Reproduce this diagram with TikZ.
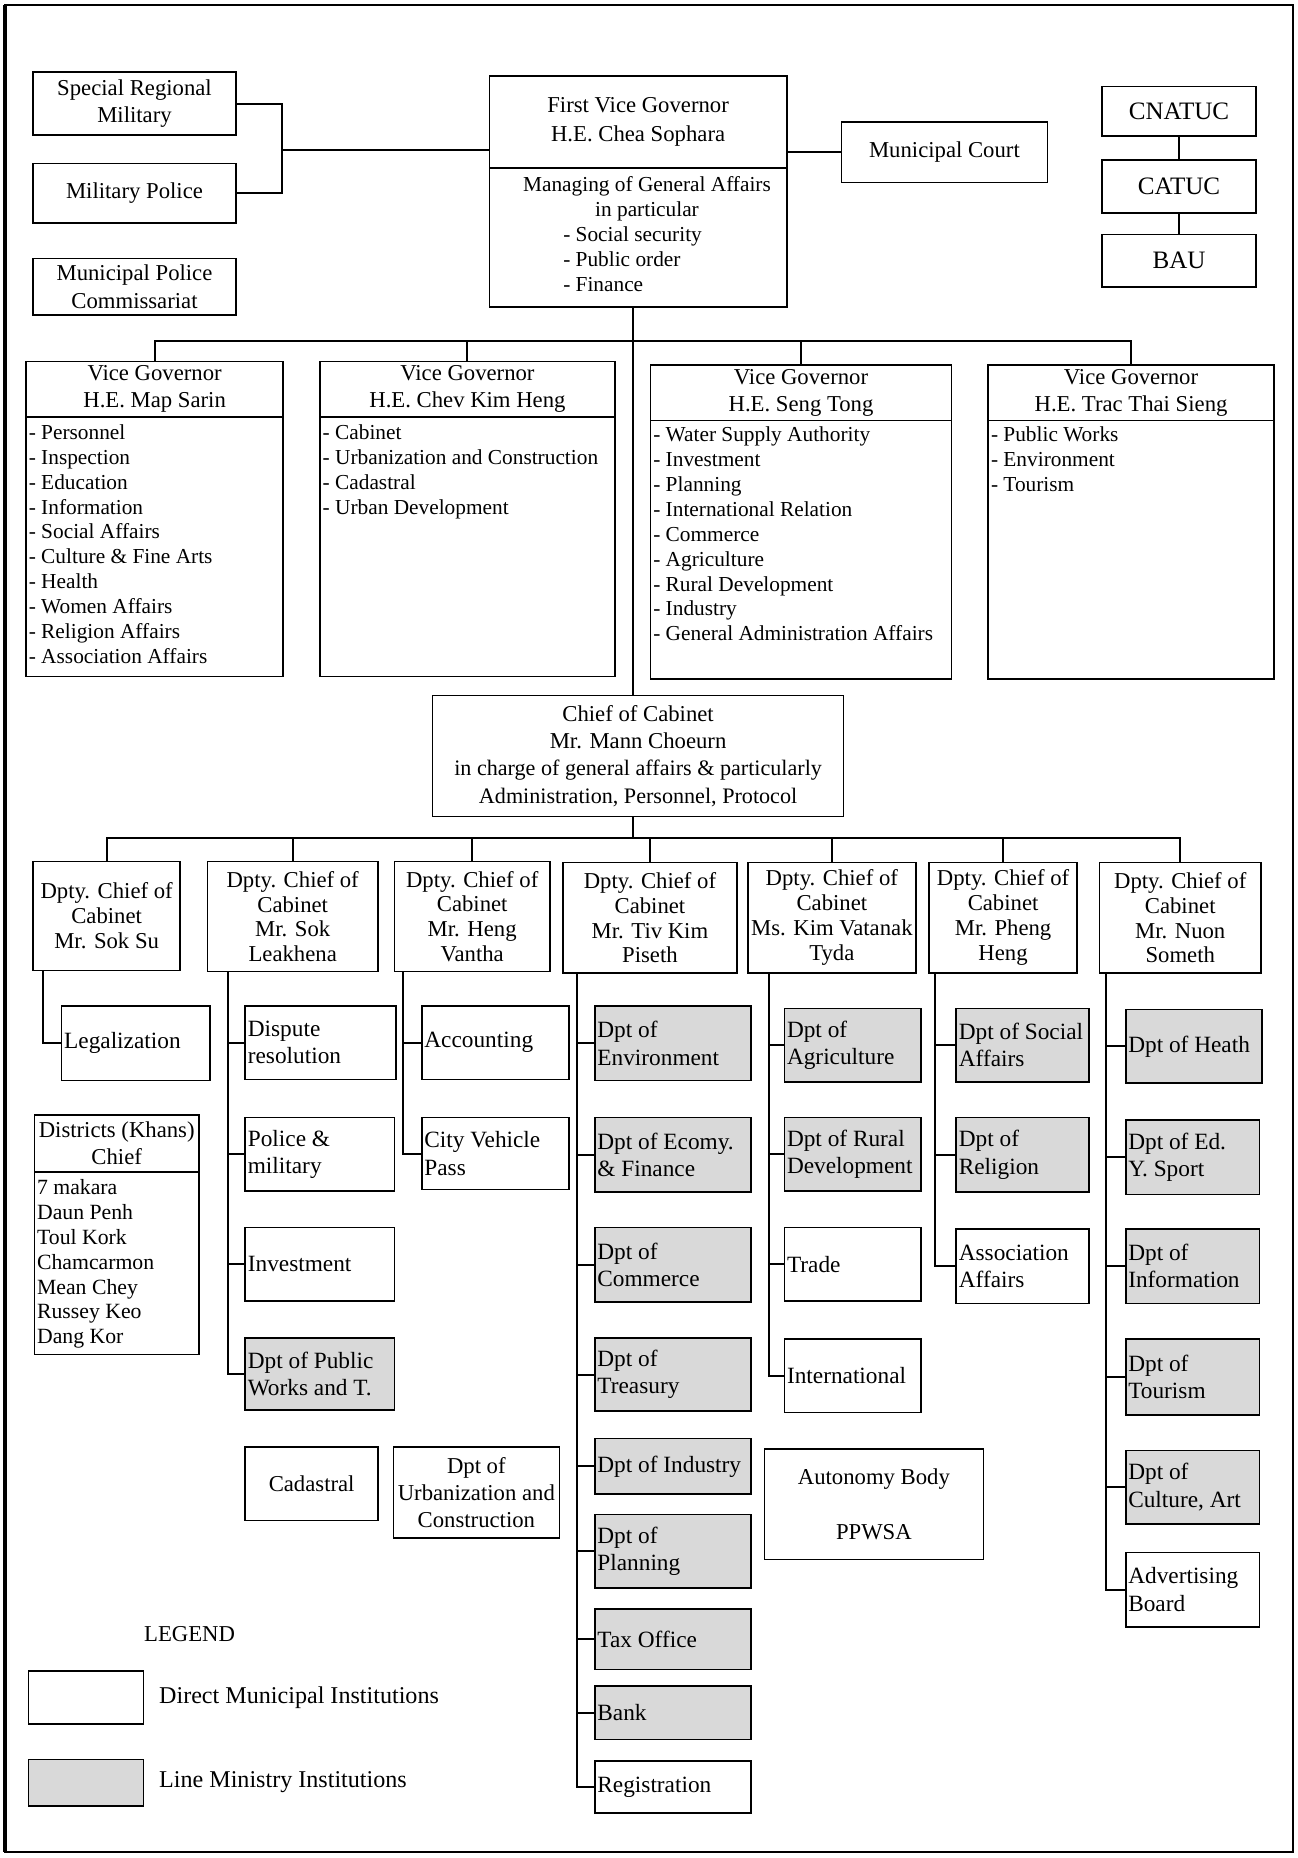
\documentclass[tikz,border=0pt]{standalone}
\usepackage{fontspec}
\setmainfont{Liberation Serif}
% box given by its corners (x1,y1)-(x2,y2), text centred
\newcommand\cbox[7]{%
  \node[#1,minimum width={(#5-#3)*0.6pt},minimum height={(#6-#4)*0.6pt}]
    (#2) at ({(#3+#5)/2},{(#4+#6)/2}) {#7};}
% box given by its corners, text flush left
\newcommand\lbox[7]{%
  \node[#1,minimum width={(#5-#3)*0.6pt},minimum height={(#6-#4)*0.6pt}]
    (#2) at ({(#3+#5)/2},{(#4+#6)/2}) {};
  \node[lefttext] (#2-t) at (#2.west) {#7};}
\begin{document}
\begin{tikzpicture}[x=0.6pt,y=-0.6pt,
  every node/.style={font=\fontsize{11.5}{13.8}\selectfont},
  box/.style={draw,line width=0.8pt,fill=white,inner sep=0pt,align=center},
  shade/.style={box,fill=black!15},
  dpty/.style={box,font=\fontsize{11.5}{12.6}\selectfont},
  lefttext/.style={anchor=west,align=left,inner xsep=1.5pt,inner ysep=0pt,
    font=\fontsize{11.8}{13.8}\selectfont},
  listtext/.style={anchor=north west,align=left,inner sep=0pt,
    font=\fontsize{10.8}{12.6}\selectfont},
  union/.style={box,font=\fontsize{12.7}{15}\selectfont},
  legendtext/.style={anchor=west,inner sep=0pt,font=\fontsize{12.2}{14}\selectfont},
  wire/.style={line width=1pt}]

\useasboundingbox (0,0) rectangle (1095,1568);
\draw[line width=1.1pt] (4,4) rectangle (1091,1563);
\draw[line width=2.2pt] (4,4) -- (4,1563);

% ---------- top level ----------
\cbox{box}{srm}{28}{61}{199}{114}{Special Regional\\Military}
\cbox{box}{mp}{28}{138}{199}{188}{Military Police}
\cbox{box}{mpc}{28}{218}{199}{266}{Municipal Police\\Commissariat}

\cbox{box}{fvgh}{413}{64}{664}{142}{First Vice Governor\\[1pt]H.E. Chea Sophara}
\cbox{box}{fvgb}{413}{142}{664}{259}{}
\node[listtext,anchor=north,align=center] (fvgb-t1) at (546,149)
  {Managing of General Affairs\\in particular};
\node[listtext] (fvgb-t2) at (475,191) {- Social security\\- Public order\\- Finance};

\cbox{box}{mc}{710}{103}{884}{154}{Municipal Court}
\cbox{union}{cna}{930}{73}{1060}{115}{CNATUC}
\cbox{union}{cat}{930}{135}{1060}{180}{CATUC}
\cbox{union}{bau}{930}{198}{1060}{242}{BAU}

\coordinate (br) at (238,127);
\draw[wire] (srm.east) -| (br) |- (mp.east);
\draw[wire] (br) -- (br -| fvgh.west);
\draw[wire] (mc.west -| fvgh.east) -- (mc.west);
\draw[wire] (cna.south) -- (cat.north);
\draw[wire] (cat.south) -- (bau.north);

% ---------- vice governors ----------
\cbox{box}{vg1h}{22}{305}{239}{352}{Vice Governor\\H.E. Map Sarin}
\cbox{box}{vg1b}{22}{352}{239}{571}{}
\node[listtext] (vg1b-t) at (24,358) {- Personnel\\- Inspection\\- Education\\- Information\\- Social Affairs\\- Culture \& Fine Arts\\- Health\\- Women Affairs\\- Religion Affairs\\- Association Affairs};

\cbox{box}{vg2h}{270}{305}{519}{352}{Vice Governor\\H.E. Chev Kim Heng}
\cbox{box}{vg2b}{270}{352}{519}{571}{}
\node[listtext] (vg2b-t) at (272,358) {- Cabinet\\- Urbanization and Construction\\- Cadastral\\- Urban Development};

\cbox{box}{vg3h}{549}{308}{803}{355}{Vice Governor\\H.E. Seng Tong}
\cbox{box}{vg3b}{549}{355}{803}{573}{}
\node[listtext] (vg3b-t) at (551,360) {- Water Supply Authority\\- Investment\\- Planning\\- International Relation\\- Commerce\\- Agriculture\\- Rural Development\\- Industry\\- General Administration Affairs};

\cbox{box}{vg4h}{834}{308}{1075}{355}{Vice Governor\\H.E. Trac Thai Sieng}
\cbox{box}{vg4b}{834}{355}{1075}{573}{}
\node[listtext] (vg4b-t) at (836,360) {- Public Works\\- Environment\\- Tourism};

% ---------- chief of cabinet ----------
\cbox{box}{coc}{365}{587}{712}{689}{Chief of Cabinet\\Mr. Mann Choeurn\\{\fontsize{11.2}{12.6}\selectfont in charge of general affairs \& particularly}\\{\fontsize{11.2}{12.6}\selectfont Administration, Personnel, Protocol}}

\coordinate (sp1) at (534,288);
\coordinate (sp2) at (534,707);
\draw[wire] (fvgb.south -| sp1) -- (coc.north -| sp1);
\draw[wire] (vg1h.north) |- (sp1);
\draw[wire] (vg4h.north) |- (sp1);
\draw[wire] (vg2h.north) -- (vg2h.north |- sp1);
\draw[wire] (vg3h.north) -- (vg3h.north |- sp1);

% ---------- deputy chiefs ----------
\cbox{dpty}{d1}{28}{727}{152}{819}{Dpty. Chief of\\Cabinet\\Mr. Sok Su}
\cbox{dpty}{d2}{175}{727}{319}{820}{Dpty. Chief of\\Cabinet\\Mr. Sok\\Leakhena}
\cbox{dpty}{d3}{333}{727}{464}{820}{Dpty. Chief of\\Cabinet\\Mr. Heng\\Vantha}
\cbox{dpty}{d4}{475}{728}{622}{821}{Dpty. Chief of\\Cabinet\\Mr. Tiv Kim\\Piseth}
\cbox{dpty}{d5}{631}{728}{773}{821}{Dpty. Chief of\\Cabinet\\Ms. Kim Vatanak\\Tyda}
\cbox{dpty}{d6}{784}{728}{909}{821}{Dpty. Chief of\\Cabinet\\Mr. Pheng\\Heng}
\cbox{dpty}{d7}{928}{728}{1064}{821}{Dpty. Chief of\\Cabinet\\Mr. Nuon\\Someth}

\draw[wire] (coc.south -| sp2) -- (sp2);
\draw[wire] (d1.north) |- (sp2);
\draw[wire] (d7.north) |- (sp2);
\foreach \n in {d2,d3,d4,d5,d6}
  \draw[wire] (\n.north) -- (\n.north |- sp2);

% ---------- offices ----------
\lbox{box}{leg}{52}{849}{177}{912}{Legalization}
\cbox{box}{dish}{29}{941}{168}{989}{Districts (Khans)\\Chief}
\cbox{box}{disb}{29}{989}{168}{1143}{}
\node[listtext,font=\fontsize{11}{12.6}\selectfont] (disb-t) at (31,995)
  {7 makara\\Daun Penh\\Toul Kork\\Chamcarmon\\Mean Chey\\Russey Keo\\Dang Kor};

\lbox{box}{disp}{207}{849}{334}{911}{Dispute\\resolution}
\lbox{box}{pol}{207}{943}{333}{1005}{Police \&\\military}
\lbox{box}{inv}{207}{1036}{333}{1098}{Investment}
\lbox{shade}{pw}{207}{1129}{333}{1190}{Dpt of Public\\Works and T.}
\cbox{box}{cad}{207}{1221}{319}{1283}{Cadastral}
\cbox{box}{urb}{332}{1221}{472}{1298}{Dpt of\\Urbanization and\\Construction}

\lbox{box}{acc}{356}{849}{480}{911}{Accounting}
\lbox{box}{cvp}{356}{943}{480}{1004}{City Vehicle\\Pass}

\lbox{shade}{env}{502}{849}{634}{912}{Dpt of\\Environment}
\lbox{shade}{eco}{502}{943}{634}{1006}{Dpt of Ecomy.\\\& Finance}
\lbox{shade}{com}{502}{1036}{634}{1099}{Dpt of\\Commerce}
\lbox{shade}{tre}{502}{1129}{634}{1191}{Dpt of\\Treasury}
\lbox{shade}{ind}{502}{1214}{634}{1261}{Dpt of Industry}
\lbox{shade}{pla}{502}{1278}{634}{1340}{Dpt of\\Planning}
\lbox{shade}{tax}{502}{1358}{634}{1409}{Tax Office}
\lbox{shade}{bank}{502}{1423}{634}{1468}{Bank}
\lbox{box}{reg}{502}{1486}{634}{1530}{Registration}
\cbox{box}{auto}{645}{1223}{830}{1316}{Autonomy Body\\[14pt]PPWSA}

\lbox{shade}{agr}{662}{851}{777}{913}{Dpt of\\Agriculture}
\lbox{shade}{rur}{662}{943}{777}{1005}{Dpt of Rural\\Development}
\lbox{box}{tra}{662}{1036}{777}{1098}{Trade}
\lbox{box}{int}{662}{1130}{777}{1192}{International}

\lbox{shade}{soc}{807}{851}{919}{913}{Dpt of Social\\Affairs}
\lbox{shade}{rel}{807}{943}{919}{1006}{Dpt of\\Religion}
\lbox{box}{ass}{807}{1037}{919}{1100}{Association\\Affairs}

\lbox{shade}{hea}{950}{852}{1065}{914}{Dpt of Heath}
\lbox{shade}{edu}{950}{945}{1063}{1008}{Dpt of Ed.\\Y. Sport}
\lbox{shade}{inf}{950}{1037}{1063}{1100}{Dpt of\\Information}
\lbox{shade}{tou}{950}{1130}{1063}{1194}{Dpt of\\Tourism}
\lbox{shade}{cul}{950}{1224}{1063}{1286}{Dpt of\\Culture, Art}
\lbox{box}{adv}{950}{1310}{1063}{1373}{Advertising\\Board}

% column trunks under each deputy chief
\coordinate (k1) at (36,819);
\coordinate (k2) at (192,820);
\coordinate (k3) at (340,820);
\coordinate (k4) at (487,821);
\coordinate (k5) at (649,821);
\coordinate (k6) at (789,821);
\coordinate (k7) at (933,821);
\draw[wire] (k1) |- (leg.west);
\foreach \n in {disp,pol,inv,pw} \draw[wire] (k2) |- (\n.west);
\foreach \n in {acc,cvp} \draw[wire] (k3) |- (\n.west);
\foreach \n in {env,eco,com,tre,ind,pla,tax,bank,reg} \draw[wire] (k4) |- (\n.west);
\foreach \n in {agr,rur,tra,int} \draw[wire] (k5) |- (\n.west);
\foreach \n in {soc,rel,ass} \draw[wire] (k6) |- (\n.west);
\foreach \n in {hea,edu,inf,tou,cul,adv} \draw[wire] (k7) |- (\n.west);

% ---------- legend ----------
\node[font=\fontsize{11.5}{13.8}\selectfont] (lgd) at (160,1379) {LEGEND};
\cbox{box}{lg1}{24}{1410}{121}{1455}{}
\node[legendtext] (lg1-t) at (134,1433) {Direct Municipal Institutions};
\cbox{shade}{lg2}{24}{1485}{121}{1524}{}
\node[legendtext] (lg2-t) at (134,1504) {Line Ministry Institutions};
\end{tikzpicture}
\end{document}
